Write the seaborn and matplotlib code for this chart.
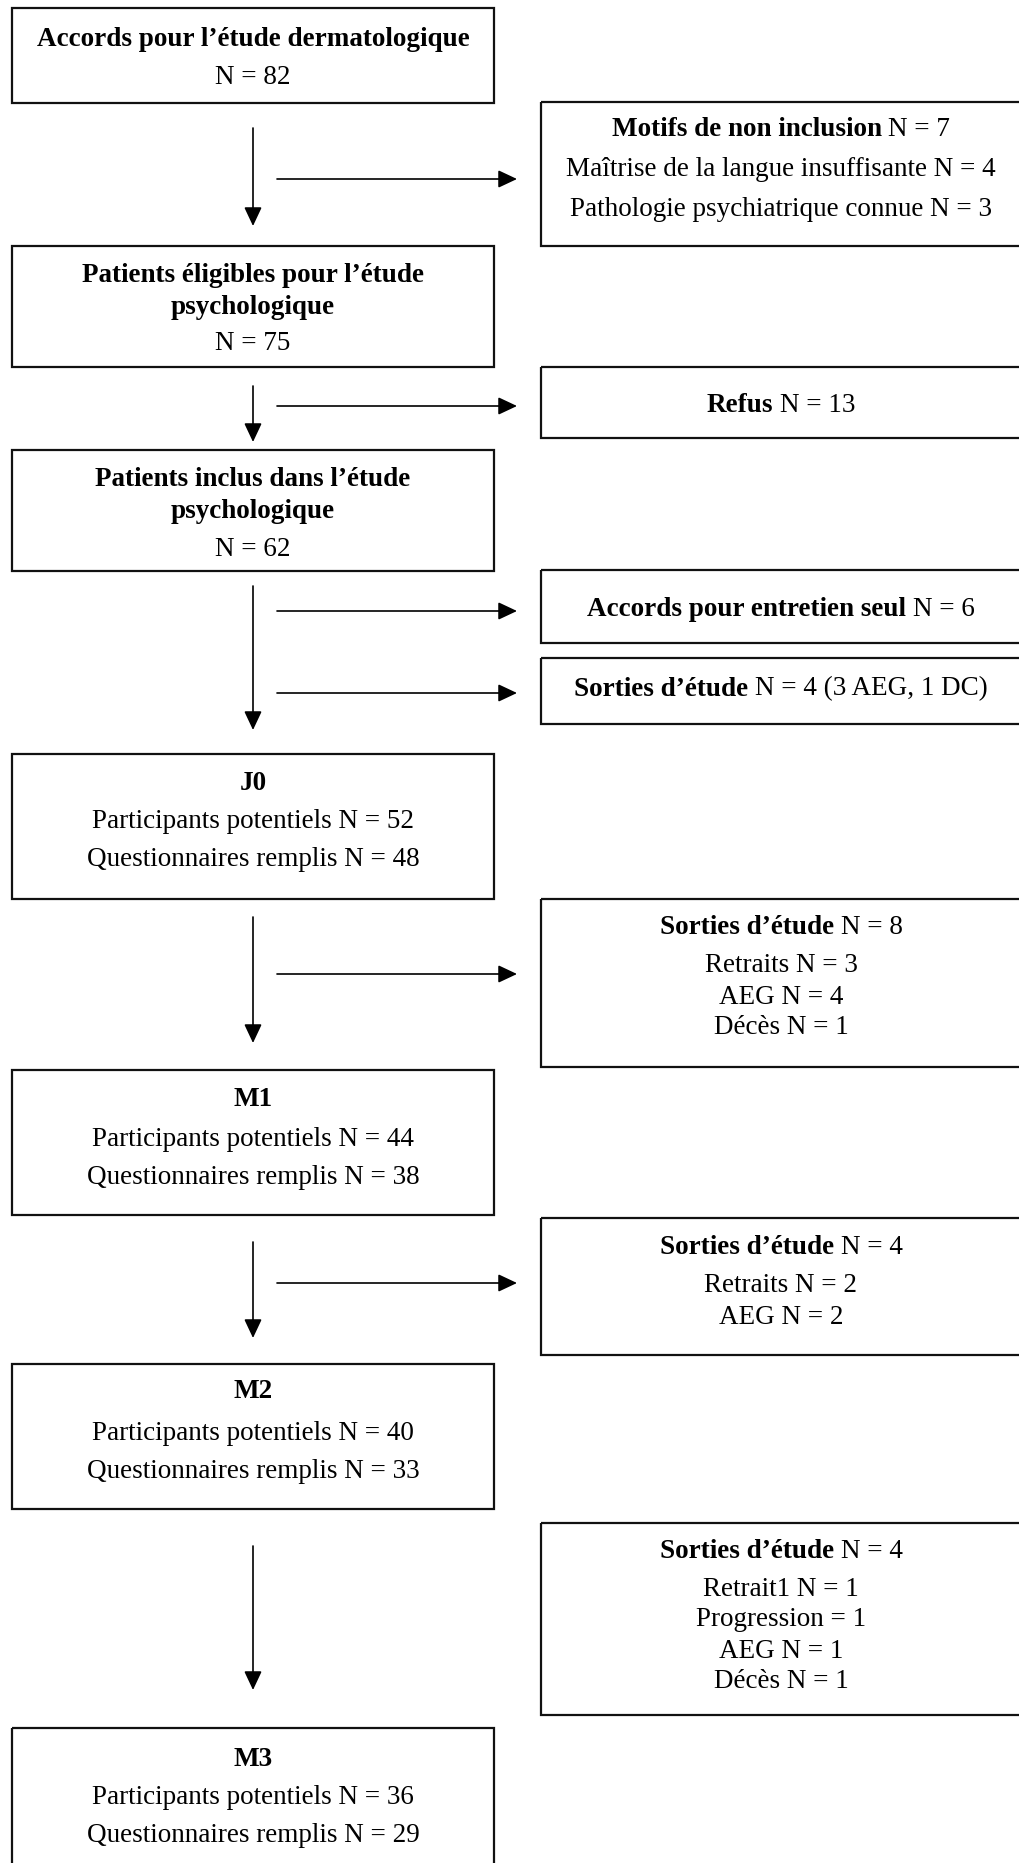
import matplotlib
matplotlib.use("Agg")
import matplotlib.pyplot as plt
import seaborn as sns
from matplotlib.patches import Rectangle

# data of the flow chart
main_titles = ["Accords pour l’étude dermatologique",
               "Patients éligibles pour l’étude\npsychologique",
               "Patients inclus dans l’étude\npsychologique",
               "J0", "M1", "M2", "M3"]
main_n = [82, 75, 62]
potentiels = [52, 44, 40, 36]
remplis = [48, 38, 33, 29]

side_titles = ["Motifs de non inclusion", "Refus", "Accords pour entretien seul",
               "Sorties d’étude", "Sorties d’étude", "Sorties d’étude", "Sorties d’étude"]
side_n = [7, 13, 6, 4, 8, 4, 4]
side_notes = ["", "", "", " (3 AEG, 1 DC)", "", "", ""]
side_labels = [["Maîtrise de la langue insuffisante N", "Pathologie psychiatrique connue N"],
               [], [], [],
               ["Retraits N", "AEG N", "Décès N"],
               ["Retraits N", "AEG N"],
               ["Retrait1 N", "Progression", "AEG N", "Décès N"]]
side_values = [[4, 3], [], [], [], [3, 4, 1], [2, 2], [1, 1, 1, 1]]

# layout (pixels, y downwards)
W, H = 1019, 1863
main_x = (12, 494)
main_box = [(8, 103), (246, 367), (450, 571), (754, 899), (1070, 1215), (1364, 1509), (1728, 1895)]
main_lines = [[37, 75], [274, 305, 342], [478, 509, 547], [782, 820, 858],
              [1098, 1137, 1175], [1390, 1431, 1469], [1757, 1795, 1833]]
side_x = (541, 1035)
side_cx = 781
side_box = [(102, 246), (367, 438), (570, 643), (658, 724), (899, 1067), (1218, 1355), (1523, 1715)]
side_lines = [[128, 168, 207], [403], [607], [687], [925, 964, 995, 1026],
              [1245, 1283, 1315], [1549, 1588, 1618, 1649, 1680]]
down_arrows = [(128, 226), (386, 442), (586, 730), (917, 1043), (1242, 1338), (1546, 1690)]
right_arrows = [179, 406, 611, 693, 974, 1283]

sns.set_theme(style="white")
plt.rcParams['font.family'] = ['Liberation Serif', 'DejaVu Serif']

fig = plt.figure(figsize=(W / 100, H / 100), dpi=100)
ax = fig.add_axes([0, 0, 1, 1])
ax.set_xlim(0, W)
ax.set_ylim(H, 0)
ax.axis('off')

FS = 19.5
renderer = fig.canvas.get_renderer()


def draw_line(cx, yc, segs):
    # segs: list of (text, bold); pieces laid side by side, centred on cx
    objs = []
    for txt, bold in segs:
        t = ax.text(0, yc + 8.5, txt, fontsize=FS, fontweight='bold' if bold else 'normal',
                    ha='left', va='baseline', color='black')
        objs.append(t)
    widths = [t.get_window_extent(renderer).width for t in objs]
    gap = 0.25 * FS * 100 / 72
    total = sum(widths) + gap * (len(objs) - 1)
    x = cx - total / 2
    for t, w in zip(objs, widths):
        t.set_x(x)
        x += w + gap


def box(x0, x1, y0, y1):
    ax.add_patch(Rectangle((x0, y0), x1 - x0, y1 - y0, fill=False, lw=1.6, ec='#111111'))


arrow_kw = dict(arrowstyle='-|>,head_length=1.15,head_width=0.54', mutation_scale=10,
                lw=1.2, color='black', shrinkA=0, shrinkB=0)

# main column
main_cx = (main_x[0] + main_x[1]) / 2
for i, title in enumerate(main_titles):
    box(main_x[0], main_x[1], *main_box[i])
    ys = main_lines[i]
    parts = title.split("\n")
    for j, p in enumerate(parts):
        draw_line(main_cx, ys[j], [(p, True)])
    if i < len(main_n):
        draw_line(main_cx, ys[len(parts)], [(f"N = {main_n[i]}", False)])
    else:
        k = i - len(main_n)
        draw_line(main_cx, ys[1], [(f"Participants potentiels N = {potentiels[k]}", False)])
        draw_line(main_cx, ys[2], [(f"Questionnaires remplis N = {remplis[k]}", False)])

# side boxes
for i, title in enumerate(side_titles):
    box(side_x[0], side_x[1], *side_box[i])
    ys = side_lines[i]
    draw_line(side_cx, ys[0], [(title, True), (f"N = {side_n[i]}{side_notes[i]}", False)])
    for j, (lab, val) in enumerate(zip(side_labels[i], side_values[i])):
        draw_line(side_cx, ys[j + 1], [(f"{lab} = {val}", False)])

# arrows
for y0, y1 in down_arrows:
    ax.annotate('', xy=(main_cx, y1), xytext=(main_cx, y0), arrowprops=arrow_kw)
for y in right_arrows:
    ax.annotate('', xy=(517, y), xytext=(277, y), arrowprops=arrow_kw)

fig.savefig("out.png", dpi=100, facecolor='white')
